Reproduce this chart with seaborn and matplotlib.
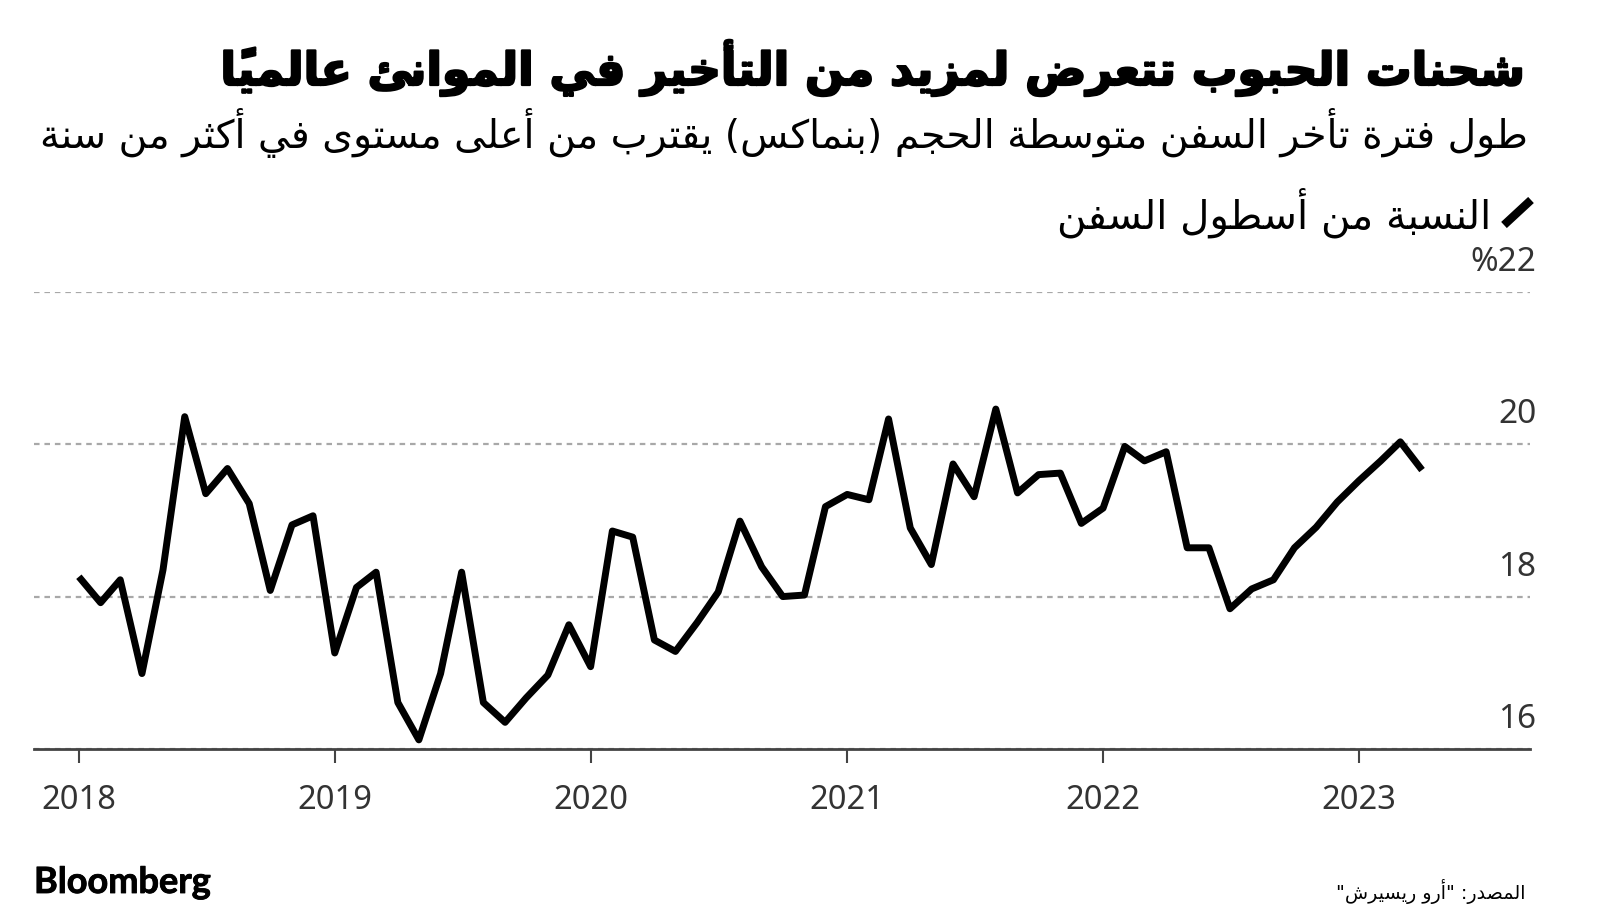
import pandas as pd
import matplotlib
matplotlib.use('Agg')
import matplotlib.pyplot as plt
import matplotlib.dates as mdates
import matplotlib.patheffects as pe
from matplotlib.lines import Line2D
import seaborn as sns

# Data
dates = pd.date_range('2018-01-01', periods=64, freq='MS')
share = [18.26, 17.92, 18.22, 16.99, 18.35, 20.36, 19.35, 19.68, 19.22, 18.08, 18.94, 19.06,
         17.26, 18.12, 18.32, 16.61, 16.12, 16.99, 18.32, 16.61, 16.35, 16.67, 16.97, 17.63,
         17.08, 18.86, 18.78, 17.43, 17.28, 17.66, 18.06, 18.99, 18.39, 18.00, 18.02, 19.18,
         19.34, 19.27, 20.33, 18.90, 18.42, 19.74, 19.31, 20.46, 19.36, 19.60, 19.62, 18.96,
         19.16, 19.97, 19.78, 19.90, 18.64, 18.64, 17.84, 18.10, 18.22, 18.64, 18.91, 19.24,
         19.52, 19.78, 20.03, 19.66]
year_ticks = [2018, 2019, 2020, 2021, 2022, 2023]
y_ticks = [16, 18, 20, 22]
y_labels = ['16', '18', '20', '%22']

title = 'شحنات الحبوب تتعرض لمزيد من التأخير في الموانئ عالمياً'
subtitle = 'طول فترة تأخر السفن متوسطة الحجم (بنماكس) يقترب من أعلى مستوى في أكثر من سنة'
legend_label = 'النسبة من أسطول السفن'
source = 'المصدر: "أرو ريسيرش"'

W, H = 1600, 924

# matplotlib does no Arabic shaping, so map letters to presentation forms
# first code of each letter, and how many forms it has (2 = joins only to the right)
FORMS = {'ء': (0xFE80, 1), 'آ': (0xFE81, 2), 'أ': (0xFE83, 2), 'ؤ': (0xFE85, 2), 'إ': (0xFE87, 2),
         'ئ': (0xFE89, 4), 'ا': (0xFE8D, 2), 'ب': (0xFE8F, 4), 'ة': (0xFE93, 2), 'ت': (0xFE95, 4),
         'ث': (0xFE99, 4), 'ج': (0xFE9D, 4), 'ح': (0xFEA1, 4), 'خ': (0xFEA5, 4), 'د': (0xFEA9, 2),
         'ذ': (0xFEAB, 2), 'ر': (0xFEAD, 2), 'ز': (0xFEAF, 2), 'س': (0xFEB1, 4), 'ش': (0xFEB5, 4),
         'ص': (0xFEB9, 4), 'ض': (0xFEBD, 4), 'ط': (0xFEC1, 4), 'ظ': (0xFEC5, 4), 'ع': (0xFEC9, 4),
         'غ': (0xFECD, 4), 'ف': (0xFED1, 4), 'ق': (0xFED5, 4), 'ك': (0xFED9, 4), 'ل': (0xFEDD, 4),
         'م': (0xFEE1, 4), 'ن': (0xFEE5, 4), 'ه': (0xFEE9, 4), 'و': (0xFEED, 2), 'ى': (0xFEEF, 2),
         'ي': (0xFEF1, 4)}
MARK = '\u064B'
MIRROR = {'(': ')', ')': '('}


def shape(text):
    # marks stay glued to their base letter
    clusters = []
    for ch in text:
        if ch == MARK and clusters:
            clusters[-1][1] += ch
        else:
            clusters.append([ch, ''])
    out = []
    for i, (ch, mark) in enumerate(clusters):
        if ch not in FORMS:
            out.append(MIRROR.get(ch, ch) + mark)
            continue
        code, n = FORMS[ch]
        prev_joins = i > 0 and FORMS.get(clusters[i - 1][0], (0, 0))[1] == 4
        next_joins = i + 1 < len(clusters) and clusters[i + 1][0] in FORMS and n == 4
        if n == 1:
            form = 0
        elif prev_joins and next_joins:
            form = 3
        elif next_joins:
            form = 2
        elif prev_joins:
            form = 1
        else:
            form = 0
        out.append(chr(code + form) + mark)
    # numbers and latin would need care here, these strings have none
    return ''.join(reversed(out))


sns.set_theme(style='white')
plt.rcParams['font.family'] = ['DejaVu Sans']

fig = plt.figure(figsize=(W / 100, H / 100), dpi=100, facecolor='white')
ax = fig.add_axes([34 / W, 1 - 749 / H, (1530 - 34) / W, (749 - 291.7) / H])

df = pd.DataFrame({'date': dates, 'share': share})
sns.lineplot(data=df, x='date', y='share', color='black', linewidth=5, ax=ax,
             solid_joinstyle='round', solid_capstyle='butt', errorbar=None)

ax.set_xlim(pd.Timestamp('2017-10-29'), pd.Timestamp('2023-09-02'))
ax.set_ylim(16, 22)
ax.set_xlabel('')
ax.set_ylabel('')

ax.set_xticks([pd.Timestamp(f'{y}-01-01') for y in year_ticks])
ax.xaxis.set_major_formatter(mdates.DateFormatter('%Y'))
ax.tick_params(axis='x', bottom=True, length=10, width=1.5, color='#444444', pad=15, labelsize=23.5,
               labelcolor='#333333')
for lab in ax.get_xticklabels():
    lab.set_family('Noto Sans')

# y labels sit inside the plot, right aligned above their gridlines
ax.set_yticks(y_ticks)
ax.tick_params(axis='y', left=False, right=False, labelleft=False, labelright=False)
for v, lab in zip(y_ticks, y_labels):
    ax.annotate(lab, (1, v), xycoords=ax.get_yaxis_transform(), xytext=(4.5, 15.1),
                textcoords='offset points', ha='right', va='baseline', fontsize=24,
                family='Noto Sans', color='#333333', annotation_clip=False)

ax.grid(axis='y', color='#a8a8a8', linestyle=(0, (2.5, 2.2)), linewidth=1.6)
ax.grid(axis='x', visible=False)
sns.despine(ax=ax, top=True, left=True, right=True)
ax.spines['bottom'].set_color('#444444')
ax.spines['bottom'].set_linewidth(2)


def put(text, right, baseline, width, **kw):
    # scale the font so the string fills the width it has in the reference
    t = fig.text(right / W, 1 - baseline / H, shape(text), ha='right', va='baseline', color='black', **kw)
    ext = t.get_window_extent(fig.canvas.get_renderer())
    t.set_fontsize(t.get_fontsize() * width / ext.width)
    return t


t = put(title, 1528, 85, 1304, fontsize=34, fontweight='bold')
t.set_path_effects([pe.withStroke(linewidth=1.6, foreground='black')])
put(subtitle, 1528, 148, 1490, fontsize=28)
put(legend_label, 1491, 228, 434, fontsize=28)
put(source, 1525, 899, 190, fontsize=14)

# legend key
fig.add_artist(Line2D([1504 / W, 1531 / W], [1 - 225 / H, 1 - 200 / H], color='black', linewidth=6,
                      solid_capstyle='butt'))

b = fig.text(34 / W, 1 - 893 / H, 'Bloomberg', ha='left', va='baseline', color='black',
             family='Lato', fontweight='bold', fontsize=26)
b.set_path_effects([pe.withStroke(linewidth=0.6, foreground='black')])

fig.savefig('out.png', dpi=100)
